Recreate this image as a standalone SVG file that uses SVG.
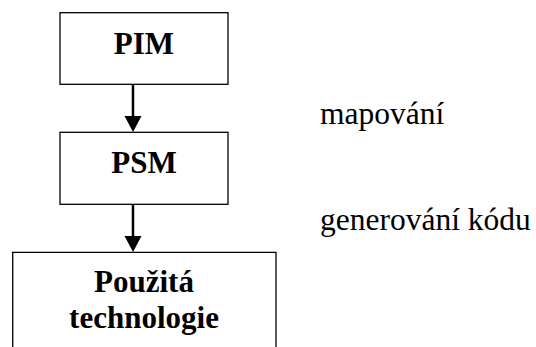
<svg xmlns="http://www.w3.org/2000/svg" width="536" height="347" viewBox="0 0 536 347">
<style>
.box{fill:#fff;stroke:#000;stroke-width:1.3}
.b{font-weight:bold;font-size:31px;text-anchor:middle;fill:#000}
.r{font-size:31.5px;fill:#000}
.c{stroke:#000;stroke-width:2.5;fill:none}
.h{fill:#000}
</style>
<rect width="536" height="347" fill="#fff"/>
<g font-family="Liberation Serif, DejaVu Serif, serif">
<g id="pim"><rect class="box" x="60" y="12.7" width="168" height="71.6"/><text class="b" x="144" y="54">PIM</text></g>
<g id="psm"><rect class="box" x="60" y="132.3" width="168" height="72"/><text class="b" x="144" y="173.3">PSM</text></g>
<g id="tech"><path class="box" d="M12.7,348 V252.3 H276 V348"/><text class="b" x="144" y="291.7">Použitá</text><text class="b" x="144" y="328">technologie</text></g>
<g id="connectors">
<path class="c" d="M133,84.3 V117"/><path class="h" d="M124.5,116 H141.5 L133,132 Z"/>
<path class="c" d="M133,204.3 V237"/><path class="h" d="M124.5,236 H141.5 L133,252 Z"/>
</g>
<text class="r" x="320" y="124">mapování</text>
<text class="r" x="320" y="230">generování kódu</text>
</g>
</svg>
